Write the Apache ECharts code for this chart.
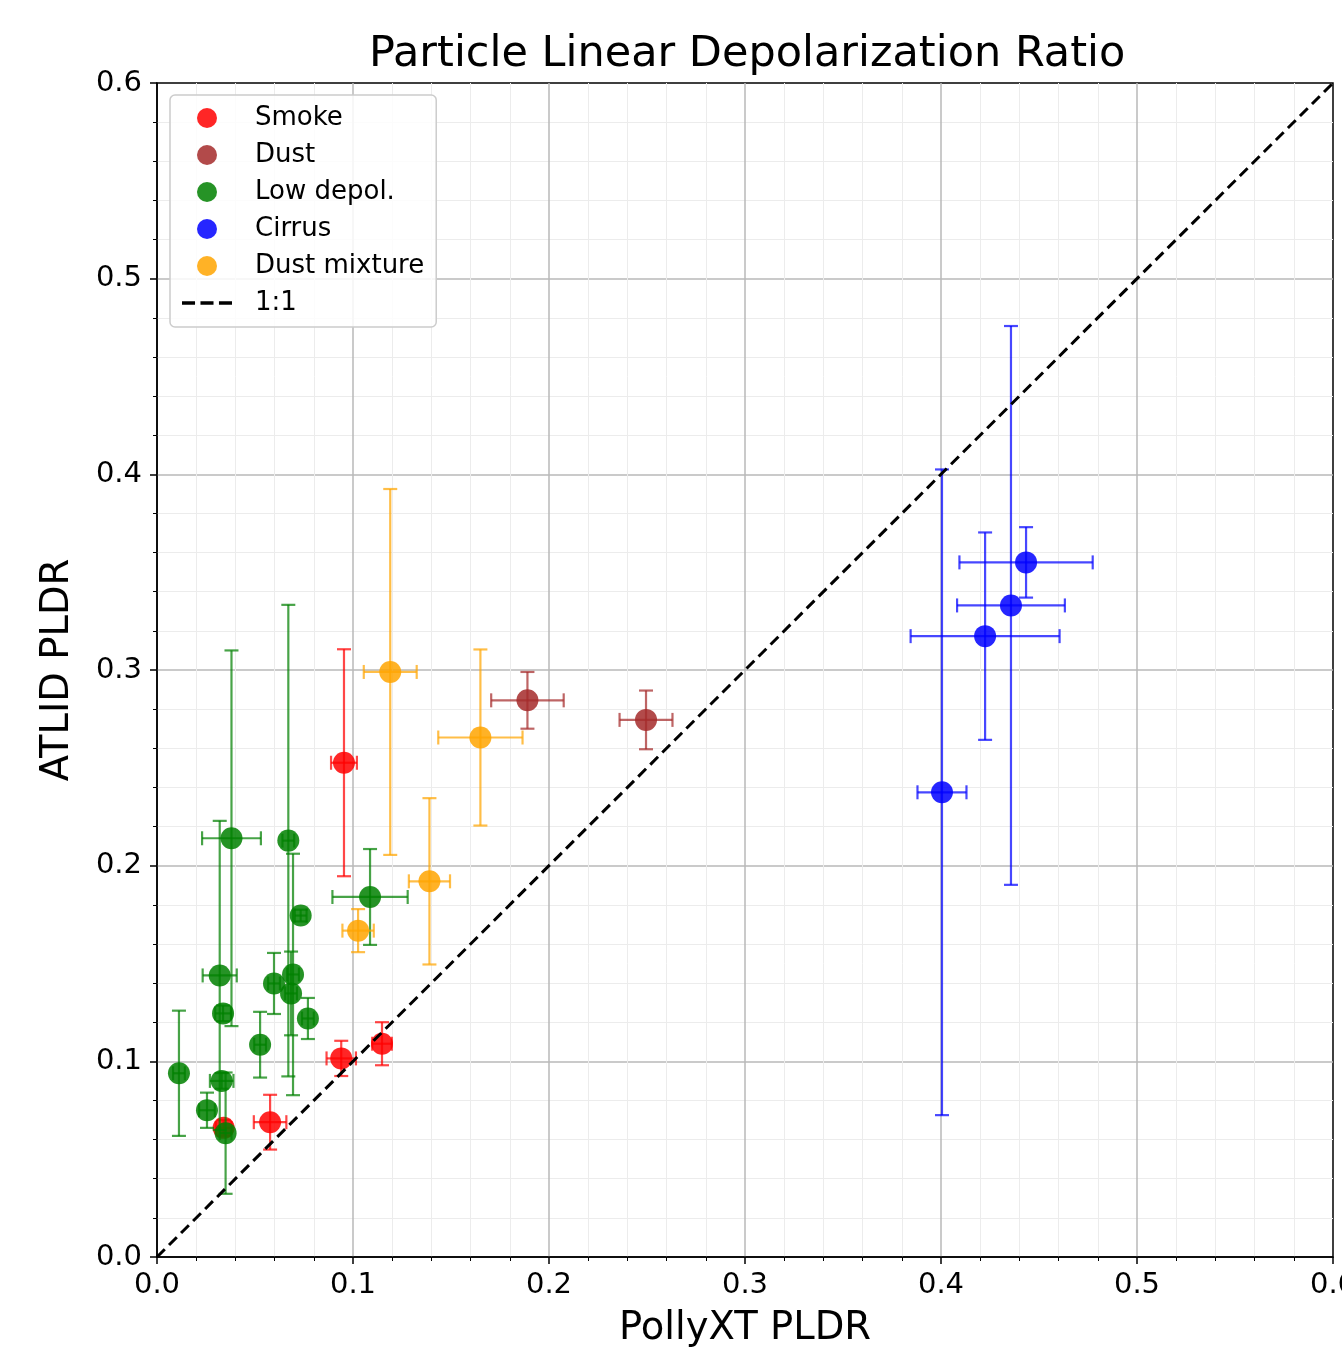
<!DOCTYPE html>
<html>
<head>
<meta charset="utf-8">
<script src="https://cdn.jsdelivr.net/npm/echarts@6/dist/echarts.min.js"></script>
<style>
html,body{margin:0;padding:0;background:#fff;}
#chart{width:1342px;height:1358px;}
</style>
</head>
<body>
<div id="chart"></div>
<script>
// Each point: [PollyXT PLDR, ATLID PLDR, x error, y error]
const smoke = [
  [0.0954, 0.2526, 0.0066, 0.058],
  [0.094, 0.1015, 0.0075, 0.009],
  [0.1148, 0.109, 0.005, 0.011],
  [0.0577, 0.0689, 0.0083, 0.014],
  [0.034, 0.066, 0.004, 0.004]
];
const dust = [
  [0.189, 0.2845, 0.0185, 0.0145],
  [0.2495, 0.2745, 0.0135, 0.015]
];
const lowDepol = [
  [0.038, 0.214, 0.015, 0.096],
  [0.032, 0.1439, 0.0087, 0.079],
  [0.0337, 0.1245, 0.004, 0.004],
  [0.033, 0.090, 0.006, 0.004],
  [0.035, 0.0633, 0.003, 0.031],
  [0.0255, 0.075, 0.004, 0.009],
  [0.0112, 0.0939, 0.003, 0.032],
  [0.0526, 0.1085, 0.003, 0.0168],
  [0.0597, 0.1398, 0.003, 0.0156],
  [0.067, 0.2128, 0.003, 0.1205],
  [0.0694, 0.1444, 0.003, 0.0617],
  [0.0684, 0.1347, 0.003, 0.0214],
  [0.0733, 0.1745, 0.003, 0.003],
  [0.077, 0.1219, 0.003, 0.0105],
  [0.1087, 0.184, 0.0192, 0.0245]
];
const cirrus = [
  [0.4005, 0.2375, 0.0125, 0.165],
  [0.4225, 0.3173, 0.038, 0.053],
  [0.4357, 0.333, 0.0275, 0.1428],
  [0.4434, 0.355, 0.034, 0.018]
];
const dustMixture = [
  [0.119, 0.299, 0.0135, 0.0935],
  [0.165, 0.2655, 0.0215, 0.045],
  [0.139, 0.192, 0.0105, 0.0425],
  [0.1026, 0.1668, 0.008, 0.011]
];
const oneToOne = [[0, 0], [0.6, 0.6]];
const axisTicks = [0, 0.1, 0.2, 0.3, 0.4, 0.5, 0.6];

const groups = [
  {name: 'Smoke', color: '#ff0000', data: smoke},
  {name: 'Dust', color: '#a52a2a', data: dust},
  {name: 'Low depol.', color: '#008000', data: lowDepol},
  {name: 'Cirrus', color: '#0000ff', data: cirrus},
  {name: 'Dust mixture', color: '#ffa500', data: dustMixture}
];

const FONT = 'DejaVu Sans';

function errRender(color) {
  return function (params, api) {
    const x = api.value(0), y = api.value(1), xe = api.value(2), ye = api.value(3);
    const t = api.coord([x, y + ye]), b = api.coord([x, y - ye]);
    const l = api.coord([x - xe, y]), r = api.coord([x + xe, y]);
    const cap = 7;
    const st = {stroke: color, lineWidth: 2.2, opacity: 0.72};
    const ln = (x1, y1, x2, y2) => ({type: 'line', shape: {x1, y1, x2, y2}, style: st});
    return {type: 'group', children: [
      ln(t[0], t[1], b[0], b[1]),
      ln(t[0] - cap, t[1], t[0] + cap, t[1]),
      ln(b[0] - cap, b[1], b[0] + cap, b[1]),
      ln(l[0], l[1], r[0], r[1]),
      ln(l[0], l[1] - cap, l[0], l[1] + cap),
      ln(r[0], r[1] - cap, r[0], r[1] + cap)
    ]};
  };
}

const series = [];
groups.forEach((g, i) => {
  series.push({
    name: g.name + ' err', type: 'custom', data: g.data,
    encode: {x: 0, y: 1}, renderItem: errRender(g.color), z: 2 + i * 2, silent: true
  });
  series.push({
    name: g.name, type: 'scatter', data: g.data.map(d => [d[0], d[1]]),
    symbol: 'circle', symbolSize: 22,
    itemStyle: {color: g.color, opacity: 0.85}, z: 3 + i * 2
  });
});
series.push({
  name: '1:1', type: 'line', data: oneToOne, symbol: 'none', showSymbol: false,
  lineStyle: {color: '#000', width: 3, type: [11, 6]}, itemStyle: {color: '#000'}, z: 20
});

function axisCommon() {
  return {
    type: 'value', min: axisTicks[0], max: axisTicks[axisTicks.length - 1], interval: 0.1,
    axisLine: {show: true, onZero: false, lineStyle: {color: '#000', width: 1.5}},
    axisTick: {show: true, length: 7, lineStyle: {color: '#000', width: 1.5}},
    minorTick: {show: true, splitNumber: 5, length: 4, lineStyle: {color: '#000', width: 1}},
    splitLine: {show: true, showMinLine: false, showMaxLine: false, lineStyle: {color: '#b8b8b8', width: 1.5}},
    minorSplitLine: {show: true, lineStyle: {color: '#ececec', width: 1}},
    axisLabel: {fontFamily: FONT, fontSize: 29, color: '#000', formatter: v => v.toFixed(1), showMaxLabel: true},
    nameLocation: 'middle',
    nameTextStyle: {fontFamily: FONT, fontSize: 38.5, color: '#000'}
  };
}

const xAxis = Object.assign(axisCommon(), {name: 'PollyXT PLDR', nameGap: 52});
xAxis.axisLabel.margin = 14;
const yAxis = Object.assign(axisCommon(), {name: 'ATLID PLDR', nameGap: 80});
yAxis.axisLabel.margin = 15;

const dashIcon = 'path://M0,0h12v3h-12zM17,0h12v3h-12zM34,0h12v3h-12z';

const chart = echarts.init(document.getElementById('chart'), null, {renderer: 'canvas'});
chart.setOption({
  animation: false,
  backgroundColor: '#fff',
  title: {
    text: 'Particle Linear Depolarization Ratio', left: 364, top: 28,
    textStyle: {fontFamily: FONT, fontSize: 43, fontWeight: 'normal', color: '#000'}
  },
  grid: {left: 157, right: 9, top: 83, bottom: 101, outerBoundsMode: 'none', containLabel: false,
    show: true, borderColor: '#000', borderWidth: 1.5, backgroundColor: 'transparent'},
  legend: {
    orient: 'vertical', left: 170, top: 95,
    data: groups.map(g => ({name: g.name, icon: 'circle'})).concat([{name: '1:1', icon: dashIcon}]),
    itemWidth: 50, itemHeight: 20, itemGap: 11,
    padding: [10, 12, 11, 12],
    backgroundColor: 'rgba(255,255,255,0.85)', borderColor: '#cccccc', borderWidth: 1.5, borderRadius: 5,
    textStyle: {fontFamily: FONT, fontSize: 26, color: '#000', lineHeight: 26, padding: [0, 0, 0, 18]},
    selectedMode: false
  },
  xAxis: xAxis,
  yAxis: yAxis,
  series: series
});
</script>
</body>
</html>
